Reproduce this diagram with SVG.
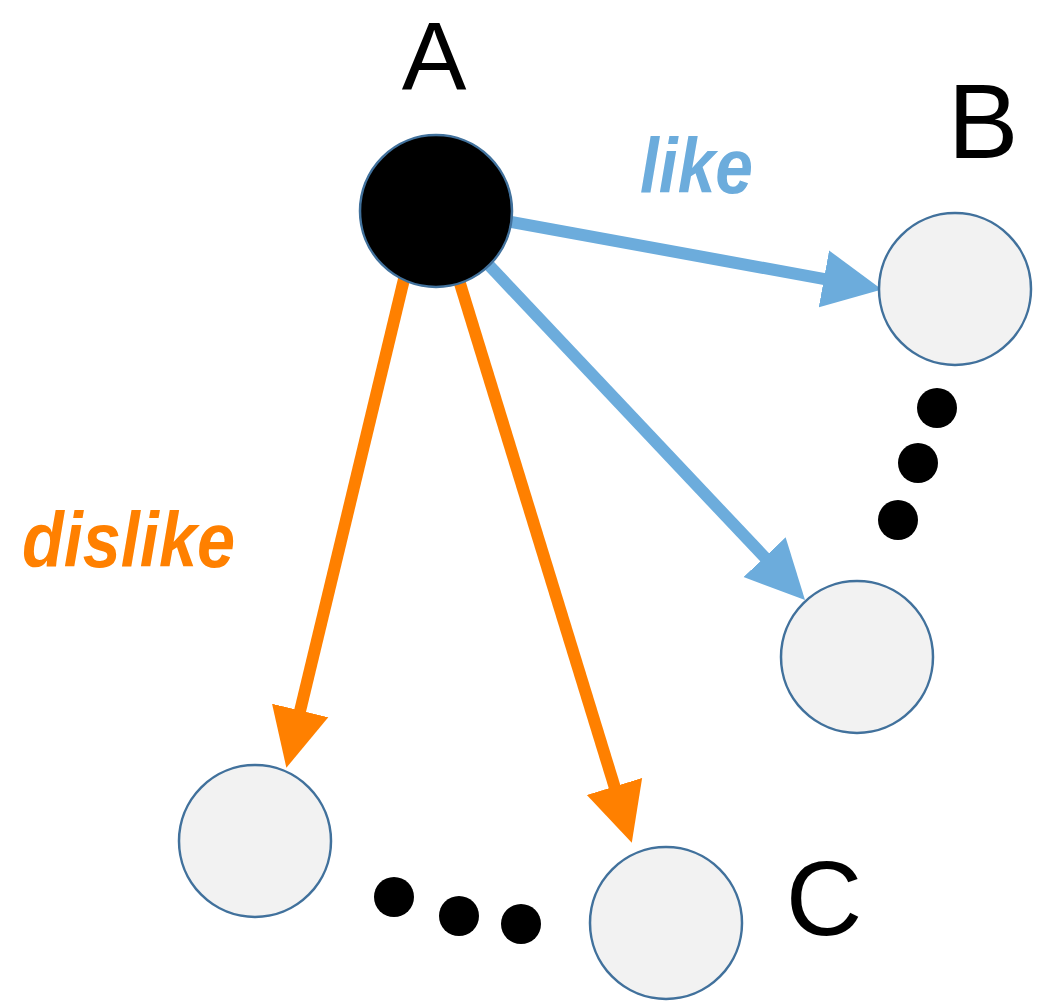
<svg xmlns="http://www.w3.org/2000/svg" width="1048" height="1007" viewBox="0 0 1048 1007">
<style>
.node{fill:#f2f2f2;stroke:#41719c;stroke-width:2.5}
.dot{fill:#000}
.lbl{font-family:"Liberation Sans",Arial,sans-serif;font-size:106px;fill:#000}
.edge-like{stroke:#6cacdc;stroke-width:12;fill:none}
.edge-dis{stroke:#ff8000;stroke-width:12;fill:none}
.elbl{font-family:"Liberation Sans",Arial,sans-serif;font-size:78px;font-style:italic;font-weight:bold}
</style>
<defs>
<marker id="hb" markerUnits="userSpaceOnUse" markerWidth="60" markerHeight="60" refX="15" refY="27" orient="auto" viewBox="0 0 56 54">
<path d="M0,0 L55,27 L0,54 z" fill="#6cacdc"/>
</marker>
<marker id="ho" markerUnits="userSpaceOnUse" markerWidth="60" markerHeight="60" refX="15" refY="27" orient="auto" viewBox="0 0 56 54">
<path d="M0,0 L55,27 L0,54 z" fill="#ff8000"/>
</marker>
</defs>
<g id="connectors">
<line class="edge-like" x1="500" y1="220" x2="839.7" y2="281.8" marker-end="url(#hb)"/>
<line class="edge-like" x1="485" y1="261" x2="775.6" y2="568.9" marker-end="url(#hb)"/>
<line class="edge-dis" x1="405" y1="275" x2="296.4" y2="726.1" marker-end="url(#ho)"/>
<line class="edge-dis" x1="458" y1="277" x2="619.2" y2="801.8" marker-end="url(#ho)"/>
<text class="elbl" x="640" y="193" fill="#6cacdc" textLength="113" lengthAdjust="spacingAndGlyphs">like</text>
<text class="elbl" x="22" y="567" fill="#ff8000" textLength="213" lengthAdjust="spacingAndGlyphs">dislike</text>
</g>
<g id="nodeA">
<circle cx="436" cy="211" r="76" fill="#000" stroke="#41719c" stroke-width="2.5"/>
<text class="lbl" x="434" y="89" text-anchor="middle" style="font-size:97px">A</text>
</g>
<g id="nodeB">
<circle class="node" cx="955" cy="289" r="76"/>
<text class="lbl" x="983" y="158" text-anchor="middle">B</text>
</g>
<g id="nodeB2">
<circle class="node" cx="857" cy="657" r="76"/>
</g>
<g id="nodeC2">
<circle class="node" cx="255" cy="841" r="76"/>
</g>
<g id="nodeC">
<circle class="node" cx="666" cy="923" r="76"/>
<text class="lbl" x="824" y="935" text-anchor="middle">C</text>
</g>
<g id="dotsB">
<circle class="dot" cx="937" cy="408" r="20"/>
<circle class="dot" cx="918" cy="463" r="20"/>
<circle class="dot" cx="898" cy="520" r="20"/>
</g>
<g id="dotsC">
<circle class="dot" cx="394" cy="897" r="20"/>
<circle class="dot" cx="459" cy="916" r="20"/>
<circle class="dot" cx="521" cy="924" r="20"/>
</g>
</svg>
